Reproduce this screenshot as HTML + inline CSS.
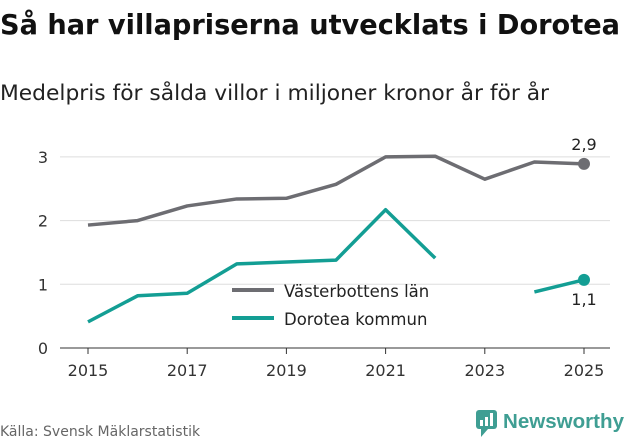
<!DOCTYPE html>
<html><head><meta charset="utf-8"><style>
body{margin:0;background:#fff;font-family:"Liberation Sans",sans-serif;}
svg text{font-family:"DejaVu Sans","Liberation Sans",sans-serif;}
</style></head><body>
<svg id="c" width="631" height="439" xmlns="http://www.w3.org/2000/svg">
<text x="0" y="34" font-size="27.5" font-weight="bold" fill="#111" textLength="620" lengthAdjust="spacingAndGlyphs">Så har villapriserna utvecklats i Dorotea</text>
<text x="0" y="100" font-size="21" fill="#222" textLength="549" lengthAdjust="spacingAndGlyphs">Medelpris för sålda villor i miljoner kronor år för år</text>
<g id="grid"></g><g id="series"></g>
<g>
<line x1="232" y1="290" x2="274" y2="290" stroke="#6d6d72" stroke-width="4"/>
<text x="284" y="297" font-size="16.5" fill="#222">Västerbottens län</text>
<line x1="232" y1="318" x2="274" y2="318" stroke="#139e94" stroke-width="4"/>
<text x="284" y="325" font-size="16.5" fill="#222">Dorotea kommun</text>
</g>
<text x="0" y="436" font-size="14" fill="#666">Källa: Svensk Mäklarstatistik</text>
<g>
<rect x="476" y="410" width="21" height="19" rx="3" fill="#3f9e93"/>
<path d="M481 429 L481 437 L488 429 Z" fill="#3f9e93"/>
<rect x="480" y="420" width="3" height="6" fill="#fff"/><rect x="485" y="417" width="3" height="9" fill="#fff"/><rect x="490" y="413" width="3" height="13" fill="#fff"/>
<text x="503" y="428" font-size="20" fill="#3f9e93" font-weight="bold" textLength="121" lengthAdjust="spacingAndGlyphs" style="font-family:'Liberation Sans',sans-serif">Newsworthy</text>
</g>
</svg>
<script>
const years=[2015,2016,2017,2018,2019,2020,2021,2022,2023,2024,2025];
const vasterbotten=[1.93,2.0,2.23,2.34,2.35,2.57,3.0,3.01,2.65,2.92,2.89];
const dorotea=[0.41,0.82,0.86,1.32,1.35,1.38,2.17,1.41,null,0.88,1.07];
const yTicks=[0,1,2,3];
const xTicks=[2015,2017,2019,2021,2023,2025];
const NS="http://www.w3.org/2000/svg";
const X=y=>88+(y-2015)*49.6, Y=v=>348-v*63.7;
function mk(t,a,p){const e=document.createElementNS(NS,t);for(const k in a)e.setAttribute(k,a[k]);p.appendChild(e);return e;}
const g=document.getElementById('grid'), s=document.getElementById('series');
yTicks.forEach(v=>{
 const l=mk('line',{x1:60,x2:610,y1:Y(v),y2:Y(v),stroke:v===0?'#333':'#ddd','stroke-width':1},g);
 
 
 const t=mk('text',{x:48,y:Y(v)+6,'font-size':16,fill:'#333','text-anchor':'end'},g);t.textContent=v;
 
 
});
xTicks.forEach(y=>{
 const l=mk('line',{x1:X(y),x2:X(y),y1:348,y2:354,stroke:'#333'},g);
 
 
 const t=mk('text',{x:X(y),y:376,'font-size':16,fill:'#333','text-anchor':'middle'},g);t.textContent=y;
 
 
});
function draw(vals,col,name){
 let segs=[],cur=[];
 vals.forEach((v,i)=>{if(v==null){if(cur.length)segs.push(cur);cur=[];}else cur.push(X(years[i])+','+Y(v));});
 if(cur.length)segs.push(cur);
 segs.forEach(sg=>{const p=mk('polyline',{points:sg.join(' '),fill:'none',stroke:col,'stroke-width':3.5,'stroke-linejoin':'round'},s);
  
  });
 const li=vals.length-1;
 const c=mk('circle',{cx:X(years[li]),cy:Y(vals[li]),r:6,fill:col},s);
 
 
 return [X(years[li]),Y(vals[li]),vals[li]];
}
const a=draw(vasterbotten,'#6d6d72','vasterbotten');
const b=draw(dorotea,'#139e94','dorotea');
const fmt=v=>v.toFixed(1).replace('.',',');
let t=mk('text',{x:a[0],y:a[1]-14,'font-size':16,fill:'#222','text-anchor':'middle'},s);t.textContent=fmt(a[2]);


t=mk('text',{x:b[0],y:b[1]+25,'font-size':16,fill:'#222','text-anchor':'middle'},s);t.textContent=fmt(b[2]);


</script>
</body></html>
